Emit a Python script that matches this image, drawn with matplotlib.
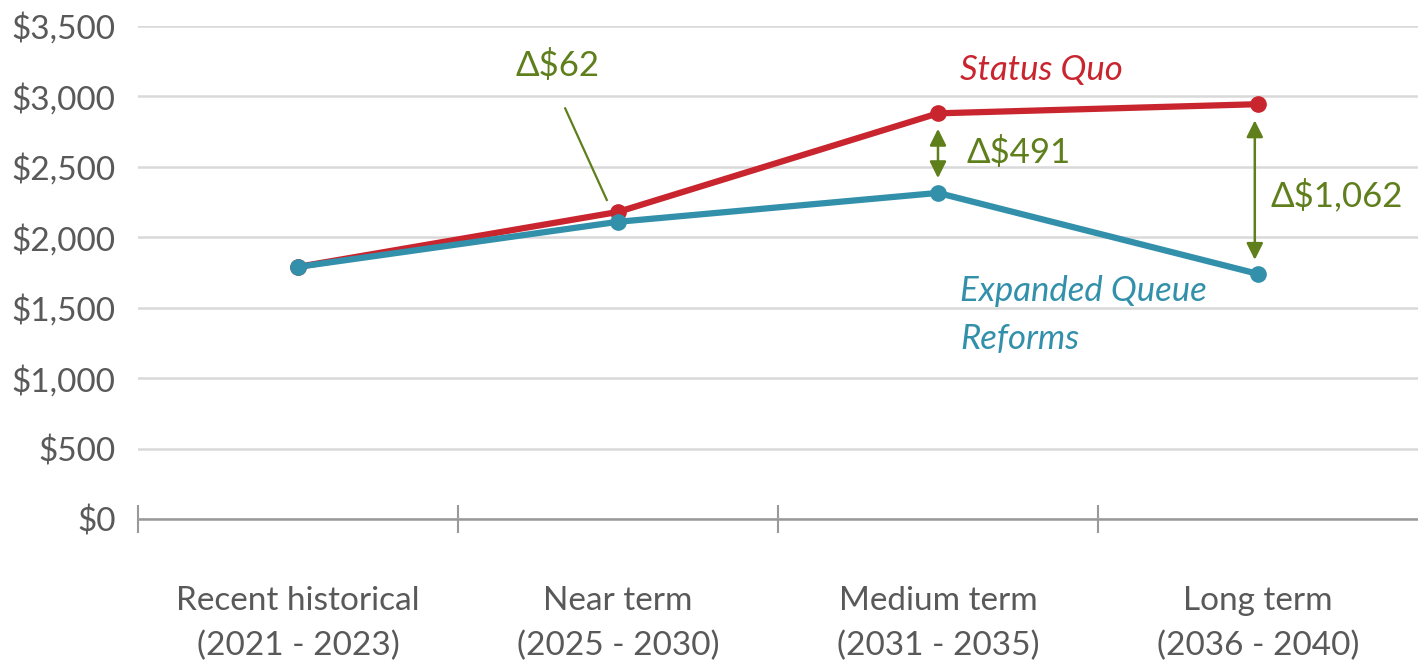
import matplotlib.pyplot as plt

# average values by period, $ per unit
periods = ['Recent historical\n(2021 - 2023)', 'Near term\n(2025 - 2030)',
           'Medium term\n(2031 - 2035)', 'Long term\n(2036 - 2040)']
status_quo = [1790, 2180, 2880, 2945]
expanded_queue = [1790, 2110, 2315, 1740]
yticks = [0, 500, 1000, 1500, 2000, 2500, 3000, 3500]
delta_labels = ['\u0394$62', '\u0394$491', '\u0394$1,062']

red = '#C9252F'
teal = '#3290AA'
olive = '#5F7F1C'
grey = '#595959'

plt.rcParams['font.family'] = ['Lato', 'DejaVu Sans']

fig = plt.figure(figsize=(14.18, 6.67), dpi=100)
ax = fig.add_axes([0.0973, 0.2219, 0.9027, 0.7391])

x = list(range(len(periods)))
ax.plot(x, status_quo, color=red, lw=4.5, marker='o', ms=11, zorder=4)
ax.plot(x, expanded_queue, color=teal, lw=4.5, marker='o', ms=11, zorder=5)

ax.set_xlim(-0.5, 3.5)
ax.set_ylim(0, 3500)
ax.set_yticks(yticks)
ax.set_yticklabels(['${:,}'.format(v) for v in yticks], fontsize=24, color=grey)
ax.set_xticks(x)
ax.set_xticklabels(periods, fontsize=24, color=grey, linespacing=1.6)
ax.set_xticks([-0.5, 0.5, 1.5, 2.5], minor=True)
ax.tick_params(axis='x', which='major', length=0, pad=48)
ax.tick_params(axis='x', which='minor', direction='inout', length=20,
               width=1.5, color='#999999')
ax.tick_params(axis='y', length=0, pad=16)
ax.yaxis.grid(True, color='#D9D9D9', lw=1.8)
ax.set_axisbelow(True)
for s in ['left', 'right', 'top']:
    ax.spines[s].set_visible(False)
ax.spines['bottom'].set_color('#999999')
ax.spines['bottom'].set_linewidth(1.8)
ax.spines['bottom'].set_zorder(3)

# series labels
ax.text(2.07, 3190, 'Status Quo', color=red, fontsize=25, style='italic',
        va='center', ha='left')
ax.text(2.07, 1730, 'Expanded Queue\nReforms', color=teal, fontsize=25,
        style='italic', va='top', ha='left', linespacing=1.6)

# difference callouts
ax.text(0.68, 3220, delta_labels[0], color=olive, fontsize=25, va='center')
ax.plot([0.835, 0.965], [2915, 2265], color=olive, lw=1.6, zorder=6)

arrow = dict(arrowstyle='<|-|>', color=olive, lw=1.8, mutation_scale=25,
             shrinkA=0, shrinkB=0)
ax.annotate('', xy=(2.0, 2770), xytext=(2.0, 2420), arrowprops=arrow, zorder=6)
ax.text(2.09, 2600, delta_labels[1], color=olive, fontsize=25, va='center')
ax.annotate('', xy=(2.99, 2830), xytext=(2.99, 1840), arrowprops=arrow, zorder=6)
ax.text(3.04, 2300, delta_labels[2], color=olive, fontsize=25, va='center')

fig.savefig('out.png', dpi=100)
